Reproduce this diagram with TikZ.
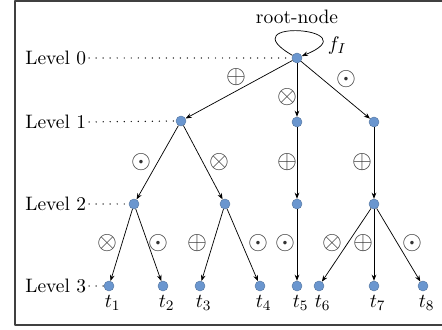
\documentclass[tikz,border=0pt]{standalone}
\usepackage{amsmath,amssymb}
\usetikzlibrary{arrows.meta}
\definecolor{nodeblue}{HTML}{6A96CF}
\tikzset{
  every picture/.style={font=\fontsize{10.8}{13}\selectfont, line join=round, >={Stealth[length=3.4pt,width=2.6pt]}},
  vert/.style={circle, fill=nodeblue, draw=nodeblue!75!black, line width=0.2pt, inner sep=0pt, minimum size=5.6pt},
  op/.style={inner sep=0pt, text=black!80, scale=1.3},
  lvl/.style={anchor=west, inner sep=0pt},
  guide/.style={line width=0.8pt, line cap=round, dash pattern=on 0pt off 3.9pt, shorten <=1.5pt},
  leaf/.style={below=3pt, inner sep=0pt},
}

\begin{document}
\begin{tikzpicture}[x=0.5556pt,y=-0.5556pt]
\useasboundingbox (0,0) rectangle (442,330);
\draw[black!75, line width=0.6pt] (15,1) rectangle (450,325);
% vertices
\node[vert] (root) at (297,58) {};
\node[vert] (a) at (181,121) {};
\node[vert] (b) at (297,122) {};
\node[vert] (c) at (374,122) {};
\node[vert] (aa) at (134,204) {};
\node[vert] (ab) at (225,204) {};
\node[vert] (ba) at (297,204) {};
\node[vert] (ca) at (374,204) {};
\node[vert] (t1) at (109,286) {};
\node[vert] (t2) at (163,286) {};
\node[vert] (t3) at (200,286) {};
\node[vert] (t4) at (260,286) {};
\node[vert] (t5) at (297,286) {};
\node[vert] (t6) at (319,286) {};
\node[vert] (t7) at (374,286) {};
\node[vert] (t8) at (423,286) {};
\node (rootname) at (297,17) {root-node};
% levels
\node[lvl] (lv0) at (25,58) {Level 0};
\node[lvl] (lv1) at (25,122) {Level 1};
\node[lvl] (lv2) at (25,204) {Level 2};
\node[lvl] (lv3) at (25,286) {Level 3};
\draw[guide] (lv0.east) -- (root.west);
\draw[guide] (lv1.east) -- (a.west);
\draw[guide] (lv2.east) -- (aa.west);
\draw[guide] (lv3.east) -- (t1.west);
% arcs
\draw[->] (root) to[out=150,in=22,distance=42pt] node[pos=0.86,right=1pt] (fI) {$f_I$} (root);
\draw[->] (root) -- (a);
\draw[->] (root) -- (b);
\draw[->] (root) -- (c);
\draw[->] (a) -- (aa);
\draw[->] (a) -- (ab);
\draw[->] (b) -- (ba);
\draw[->] (c) -- (ca);
\draw[->] (aa) -- (t1);
\draw[->] (aa) -- (t2);
\draw[->] (ab) -- (t3);
\draw[->] (ab) -- (t4);
\draw[->] (ba) -- (t5);
\draw[->] (ca) -- (t6);
\draw[->] (ca) -- (t7);
\draw[->] (ca) -- (t8);
% operators
\node[op] (o1) at (236,77) {$\oplus$};
\node[op] (o2) at (287,97) {$\otimes$};
\node[op] (o3) at (346,79) {$\odot$};
\node[op] (o4) at (141,162) {$\odot$};
\node[op] (o5) at (219,162) {$\otimes$};
\node[op] (o6) at (287,162) {$\oplus$};
\node[op] (o7) at (362,162) {$\oplus$};
\node[op] (o8) at (107,243) {$\otimes$};
\node[op] (o9) at (158,243) {$\odot$};
\node[op] (o10) at (197,243) {$\oplus$};
\node[op] (o11) at (258,243) {$\odot$};
\node[op] (o12) at (285,243) {$\odot$};
\node[op] (o13) at (332,243) {$\otimes$};
\node[op] (o14) at (363,243) {$\oplus$};
\node[op] (o15) at (412,243) {$\odot$};
% leaves
\node[leaf] at (t1.south east) {$t_1$};
\node[leaf] at (t2.south east) {$t_2$};
\node[leaf] at (t3.south east) {$t_3$};
\node[leaf] at (t4.south east) {$t_4$};
\node[leaf] at (t5.south east) {$t_5$};
\node[leaf] at (t6.south east) {$t_6$};
\node[leaf] at (t7.south east) {$t_7$};
\node[leaf] at (t8.south east) {$t_8$};
\end{tikzpicture}
\end{document}
